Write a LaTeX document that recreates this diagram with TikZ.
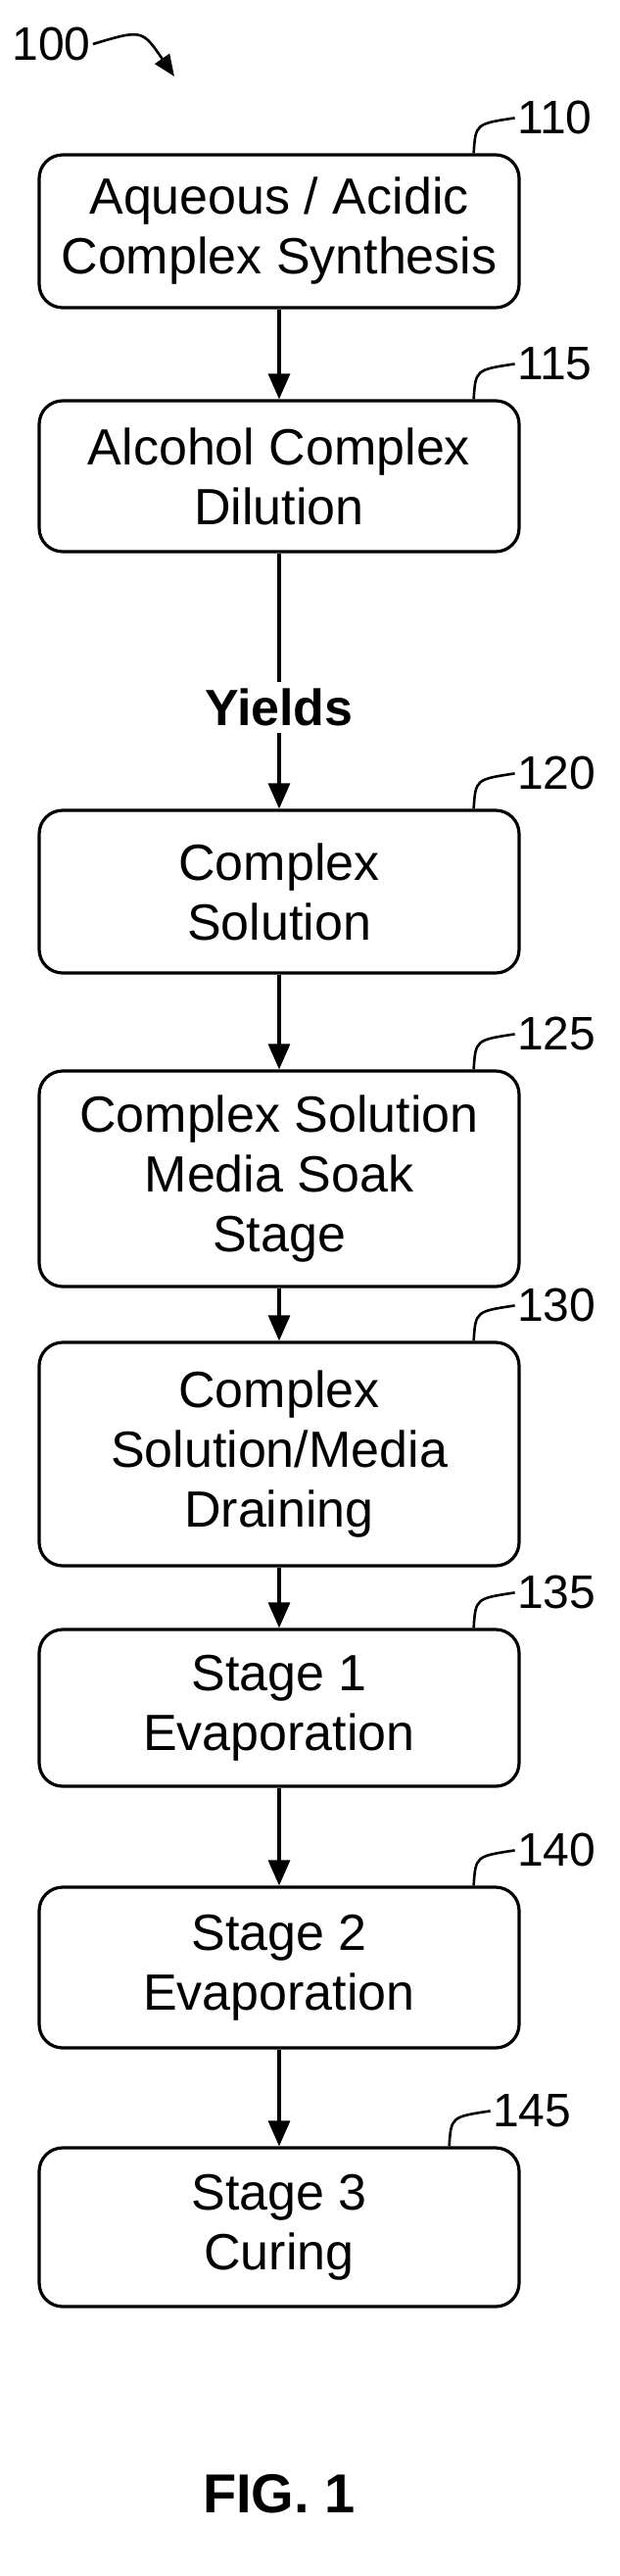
\documentclass[tikz,border=0pt]{standalone}
\usepackage{fontspec}
\setmainfont{Liberation Sans}
\usetikzlibrary{arrows.meta,positioning,calc}
\begin{document}
\begin{tikzpicture}[
    x=0.5pt, y=-0.5pt,
    stepbox/.style={rectangle, draw, line width=1.6pt, rounded corners=12pt, minimum width=245pt, inner xsep=2pt, align=center, font=\fontsize{26}{30.5}\selectfont},
    arrow/.style={-{Triangle[length=13pt, width=11pt]}, line width=1.6pt},
    refnum/.style={font=\fontsize{24}{28}\selectfont, anchor=west, inner sep=1pt},
    leader/.style={line width=1.3pt}
]
    \useasboundingbox (0,0) rectangle (632,2629);

    % reference numeral of the figure
    \node[refnum] (fig-num) at (10,45) {100};
    \coordinate (fig-tip) at (178,78);
    \draw[-{Triangle[length=11pt, width=9pt]}, line width=1.3pt] (fig-num.east) .. controls (145,30) .. (fig-tip);

    % process steps
    \node[stepbox, minimum height=78pt] (synth) at (285,236) {Aqueous / Acidic\\Complex Synthesis};
    \node[stepbox, minimum height=77pt] (dilute) at (285,486) {Alcohol Complex\\Dilution};
    \node[font=\fontsize{26}{30}\selectfont\bfseries] (yields) at (285,722) {Yields};
    \node[stepbox, minimum height=83pt] (solution) at (285,910) {Complex\\Solution};
    \node[stepbox, minimum height=110pt] (soak) at (285,1203) {Complex Solution\\Media Soak\\Stage};
    \node[stepbox, minimum height=114pt] (drain) at (285,1484) {Complex\\Solution/Media\\Draining};
    \node[stepbox, minimum height=80pt] (evap1) at (285,1743) {Stage 1\\Evaporation};
    \node[stepbox, minimum height=82pt] (evap2) at (285,2008) {Stage 2\\Evaporation};
    \node[stepbox, minimum height=81pt] (cure) at (285,2273) {Stage 3\\Curing};

    % connections
    \draw[arrow] (synth) -- (dilute);
    \draw[line width=1.6pt] (dilute) -- (yields);
    \draw[arrow] (yields) -- (solution);
    \draw[arrow] (solution) -- (soak);
    \draw[arrow] (soak) -- (drain);
    \draw[arrow] (drain) -- (evap1);
    \draw[arrow] (evap1) -- (evap2);
    \draw[arrow] (evap2) -- (cure);

    % reference numerals
    \foreach \nd/\num/\dx in {synth/110/0, dilute/115/0, solution/120/0, soak/125/0, drain/130/0, evap1/135/0, evap2/140/0, cure/145/-25} {
        \coordinate (\nd-foot) at ($(\nd.north east)+(-48+\dx,0)$);
        \node[refnum] (\nd-num) at ($(\nd-foot)+(42,-36)$) {\num};
        \draw[leader] (\nd-foot) .. controls ($(\nd-foot)+(2,-30)$) .. (\nd-num.west);
    }

    \node[font=\fontsize{28}{32}\selectfont\bfseries] (fig-label) at (285,2545) {FIG. 1};
\end{tikzpicture}
\end{document}
